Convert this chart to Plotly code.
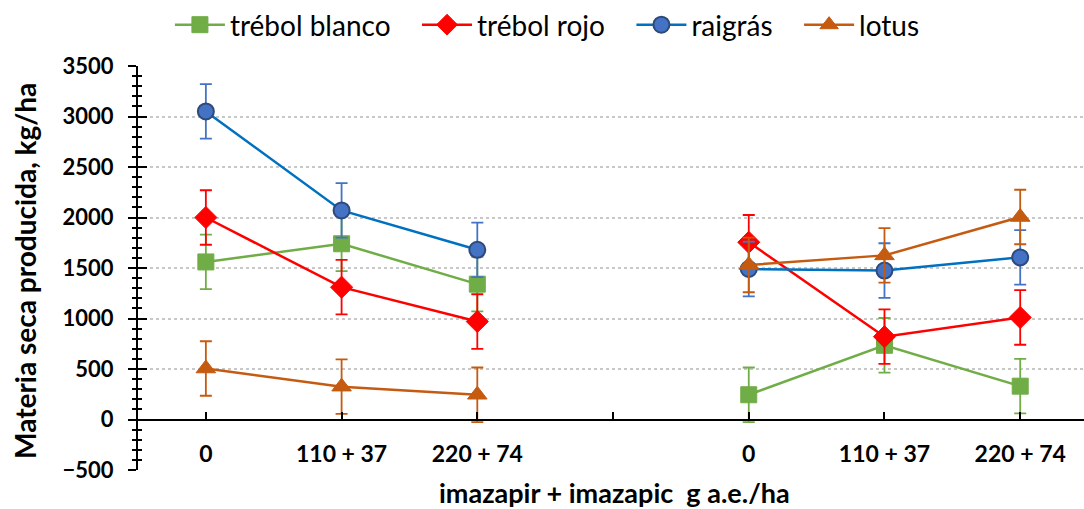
import plotly.graph_objects as go

# Dose levels (two blocks of three, with an empty slot between them)
tick_labels = ["0", "110 + 37", "220 + 74", "", "0", "110 + 37", "220 + 74"]
x_pos = [0, 1, 2, 3, 4, 5, 6]

series_names = ["trébol blanco", "trébol rojo", "raigrás", "lotus"]

# Dry matter (kg/ha); None marks the empty slot
trebol_blanco = [1560, 1740, 1340, None, 245, 735, 330]
trebol_rojo = [2000, 1310, 970, None, 1755, 820, 1010]
raigras = [3050, 2070, 1680, None, 1490, 1475, 1605]
lotus = [505, 325, 245, None, 1530, 1625, 2005]

# Error bar half-widths (kg/ha)
err_blanco = [270, 270, 270, None, 270, 270, 270]
err_rojo = [270, 270, 270, None, 270, 270, 270]
err_raigras = [270, 270, 270, None, 270, 270, 270]
err_lotus = [270, 270, 270, None, 270, 270, 270]

FONT = "Lato"
PAD = "\u00a0" * 3  # extra room between legend entries

styles = [
    dict(y=trebol_blanco, err=err_blanco, line="#70AD47", errc="#70AD47",
         marker=dict(symbol="square", size=16, color="#70AD47",
                     line=dict(color="#70AD47", width=1))),
    dict(y=trebol_rojo, err=err_rojo, line="#FF0000", errc="#FF0000",
         marker=dict(symbol="diamond", size=17, color="#FF0000",
                     line=dict(color="#FF0000", width=1))),
    dict(y=raigras, err=err_raigras, line="#0070C0", errc="#4472C4",
         marker=dict(symbol="circle", size=16, color="#4472C4",
                     line=dict(color="#2E4A7A", width=2))),
    dict(y=lotus, err=err_lotus, line="#C55A11", errc="#C55A11",
         marker=dict(symbol="triangle-up", size=17, color="#C55A11",
                     line=dict(color="#C55A11", width=1))),
]

fig = go.Figure()
for i, (name, s) in enumerate(zip(series_names, styles)):
    label = name if i == len(series_names) - 1 else name + PAD
    fig.add_trace(go.Scatter(
        x=x_pos, y=s["y"], name=label, mode="lines+markers",
        connectgaps=False,
        line=dict(color=s["line"], width=2.5),
        marker=s["marker"],
        error_y=dict(type="data", array=s["err"], visible=True,
                     color=s["errc"], thickness=1.8, width=6),
    ))

# Invisible helper trace so the second (tick-only) y axis is drawn
fig.add_trace(go.Scatter(x=[None], y=[None], yaxis="y2", showlegend=False,
                         hoverinfo="skip"))

y_ticks = list(range(-500, 3501, 500))

fig.update_layout(
    width=1084, height=509,
    margin=dict(l=138, r=0, t=66, b=39),
    paper_bgcolor="white", plot_bgcolor="white",
    font=dict(family=FONT, color="black"),
    legend=dict(orientation="h", xref="container", yref="container",
                x=0.505, xanchor="center", y=1.0, yanchor="top",
                font=dict(family=FONT, size=28, color="black"),
                itemwidth=50, tracegroupgap=0),
    showlegend=True,
    yaxis=dict(
        range=[-500, 3500], tickvals=y_ticks,
        showgrid=True, gridcolor="#C8C8C8", griddash="dot", gridwidth=2,
        zeroline=False,
        showline=True, linecolor="black", linewidth=2,
        ticks="outside", ticklen=8, tickwidth=2, tickcolor="black",
        minor=dict(dtick=100, ticks="outside", ticklen=4, tickwidth=2,
                   tickcolor="black", showgrid=False),
        ticklabelstandoff=10,
        tickfont=dict(family=FONT, size=22, color="black", weight="bold"),
    ),
    yaxis2=dict(
        range=[-500, 3500], tickvals=y_ticks, overlaying="y", side="left",
        showgrid=False, zeroline=False, showline=False,
        showticklabels=False,
        ticks="inside", ticklen=9, tickwidth=2, tickcolor="black",
        minor=dict(dtick=100, ticks="inside", ticklen=4, tickwidth=2,
                   tickcolor="black", showgrid=False),
    ),
    xaxis=dict(
        range=[-0.5, 6.47], tickvals=x_pos, ticktext=tick_labels,
        showgrid=False, zeroline=False,
        anchor="free", position=0.125,
        showline=True, linecolor="black", linewidth=2,
        ticks="inside", ticklen=7, tickwidth=2, tickcolor="black",
        ticklabelstandoff=14,
        tickfont=dict(family=FONT, size=23, color="black", weight="bold"),
    ),
)

fig.add_annotation(
    text="Materia seca producida, kg/ha", textangle=-90,
    xref="paper", yref="paper", x=-0.1195, y=0.4926,
    xanchor="center", yanchor="middle", showarrow=False,
    font=dict(family=FONT, size=28, color="black", weight="bold"),
)
fig.add_annotation(
    text="imazapir + imazapic\u00a0 g a.e./ha",
    xref="paper", yref="paper", x=0.5037, y=-0.0545,
    xanchor="center", yanchor="middle", showarrow=False,
    font=dict(family=FONT, size=27, color="black", weight="bold"),
)

fig.write_html("out.html")
